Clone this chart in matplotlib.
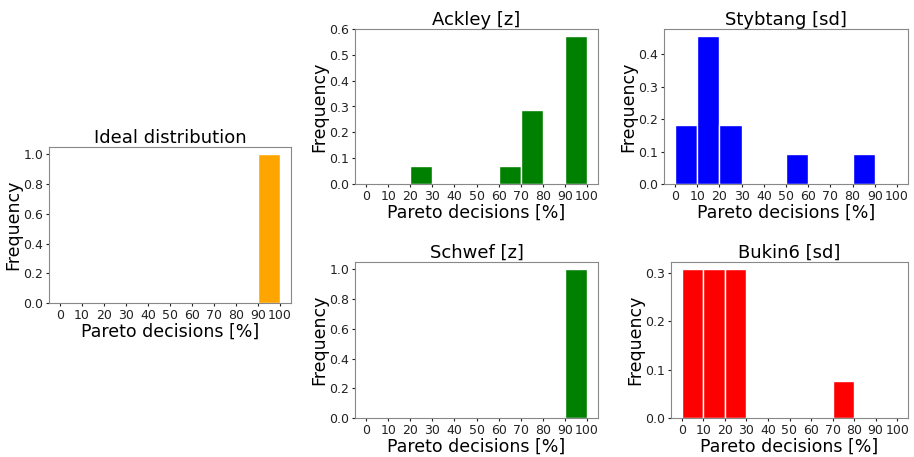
import matplotlib.pyplot as plt
import numpy as np

# bin edges for the Pareto decision percentage
bin_edges = [0, 10, 20, 30, 40, 50, 60, 70, 80, 90, 100]
tick_labels = ['0', '10', '20', '30', '40', '50', '60', '70', '80', '90', '100']

# frequency per bin
ideal_freq = [0, 0, 0, 0, 0, 0, 0, 0, 0, 1.0]
ackley_freq = [0, 0, 1/14, 0, 0, 0, 1/14, 4/14, 0, 8/14]
stybtang_freq = [2/11, 5/11, 2/11, 0, 0, 1/11, 0, 0, 1/11, 0]
schwef_freq = [0, 0, 0, 0, 0, 0, 0, 0, 0, 1.0]
bukin6_freq = [4/13, 4/13, 4/13, 0, 0, 0, 0, 1/13, 0, 0]

W, H = 914, 457
fig = plt.figure(figsize=(W / 100, H / 100), dpi=100)


def add_panel(x0, x1, y0, y1):
    return fig.add_axes([x0 / W, 1 - y1 / H, (x1 - x0) / W, (y1 - y0) / H])


def draw_hist(ax, freq, color, title, yticks):
    ax.bar(bin_edges[:-1], freq, width=10, align='edge', color=color,
           edgecolor='white', linewidth=1)
    ax.set_xticks(bin_edges)
    ax.set_xticklabels(tick_labels)
    ax.set_yticks(yticks)
    ax.set_yticklabels(['%.1f' % v for v in yticks])
    ax.tick_params(labelsize=9, colors='#222222', length=2.5)
    ax.tick_params(axis='x', pad=2)
    ax.tick_params(axis='y', pad=1.5)
    ax.set_xlim(-5, 105)
    ax.set_title(title, fontsize=13, pad=2)
    ax.set_xlabel('Pareto decisions [%]', fontsize=12.5, labelpad=0)
    ax.set_ylabel('Frequency', fontsize=12.5, labelpad=1)
    for s in ax.spines.values():
        s.set_color('#888888')


ax = add_panel(49, 291, 147, 303)
draw_hist(ax, ideal_freq, 'orange', 'Ideal distribution',
          [0.0, 0.2, 0.4, 0.6, 0.8, 1.0])

ax = add_panel(355, 598, 29, 184)
draw_hist(ax, ackley_freq, 'green', 'Ackley [z]',
          [0.0, 0.1, 0.2, 0.3, 0.4, 0.5, 0.6])

ax = add_panel(664, 908, 29, 184)
draw_hist(ax, stybtang_freq, 'blue', 'Stybtang [sd]',
          [0.0, 0.1, 0.2, 0.3, 0.4])

ax = add_panel(355, 598, 262, 418)
draw_hist(ax, schwef_freq, 'green', 'Schwef [z]',
          [0.0, 0.2, 0.4, 0.6, 0.8, 1.0])

ax = add_panel(671, 908, 262, 418)
draw_hist(ax, bukin6_freq, 'red', 'Bukin6 [sd]',
          [0.0, 0.1, 0.2, 0.3])

fig.savefig('out.png', dpi=100)
